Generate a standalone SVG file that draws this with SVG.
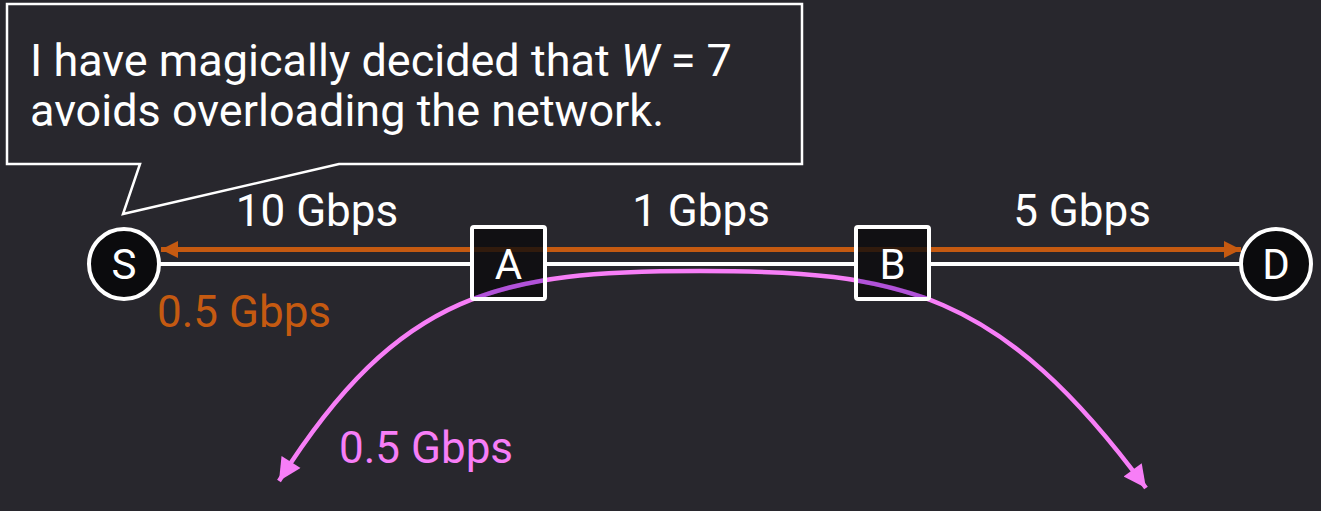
<svg xmlns="http://www.w3.org/2000/svg" width="1321" height="511" viewBox="0 0 1321 511">
<style>
text{font-family:Roboto,"Liberation Sans",sans-serif;font-size:44px;fill:#fff}
.co{font-size:45px}
.lbl{text-anchor:middle}
.nl{text-anchor:middle;font-size:42px}
.box{fill:#0b0b0d;fill-opacity:0.8;stroke:#fff;stroke-width:4}
.circ{fill:#0b0b0d;stroke:#fff;stroke-width:4}
.wl{stroke:#fff;stroke-width:4;fill:none}
.ol{stroke:#c55a11;stroke-width:5;fill:none}
.ml{stroke:#f77ef7;stroke-width:4.5;fill:none}
</style>
<defs>
<marker id="ao" viewBox="0 0 10 10" refX="10" refY="5" markerWidth="4" markerHeight="3.4" markerUnits="strokeWidth" orient="auto-start-reverse"><path d="M0,0 L10,5 L0,10 Z" fill="#c55a11"/></marker>
<marker id="am" viewBox="0 0 10 10" refX="10" refY="5" markerWidth="5.5" markerHeight="5" markerUnits="strokeWidth" orient="auto-start-reverse"><path d="M0,0 L10,5 L0,10 Z" fill="#f77ef7"/></marker>
<clipPath id="boxclip"><rect x="474" y="229" width="69" height="68"/><rect x="858" y="229" width="69" height="68"/></clipPath>
</defs>
<rect width="1321" height="511" fill="#28272d"/>
<g id="callout">
<path d="M7,4 H802 V164 H339 L123,214 L140,164 H7 Z" fill="#28272d" stroke="#fff" stroke-width="2.5" stroke-linejoin="miter"/>
<text class="co" x="30" y="76">I have magically decided that <tspan font-style="italic">W</tspan> = 7</text>
<text class="co" x="30" y="126">avoids overloading the network.</text>
</g>
<g id="connectors">
<line class="wl" x1="160" y1="264" x2="472" y2="264"/>
<line class="wl" x1="545" y1="264" x2="856" y2="264"/>
<line class="wl" x1="929" y1="264" x2="1240" y2="264"/>
<line class="ol" x1="161" y1="249.5" x2="1241" y2="249.5" marker-start="url(#ao)" marker-end="url(#ao)"/>
<path id="mc" class="ml" d="M279,481 C400,290 500,271 700,271 C900,271 1000,290 1146,488" marker-start="url(#am)" marker-end="url(#am)"/>
</g>
<g id="node-S"><circle class="circ" cx="124" cy="264" r="35"/><text class="nl" x="124" y="279">S</text></g>
<g id="node-D"><circle class="circ" cx="1276" cy="264" r="35"/><text class="nl" x="1276" y="279">D</text></g>
<g id="node-A"><rect class="box" x="472" y="227" width="73" height="72" rx="2"/><text class="nl" x="508.5" y="279">A</text></g>
<g id="node-B"><rect class="box" x="856" y="227" width="73" height="72" rx="2"/><text class="nl" x="892.5" y="279">B</text></g>
<path d="M279,481 C400,290 500,271 700,271 C900,271 1000,290 1146,488" stroke="#b152d9" stroke-width="4.5" fill="none" clip-path="url(#boxclip)"/>
<g id="labels">
<text class="lbl" x="317" y="226">10 Gbps</text>
<text class="lbl" x="701" y="226">1 Gbps</text>
<text class="lbl" x="1082" y="226">5 Gbps</text>
<text x="157" y="327" style="fill:#c55a11">0.5 Gbps</text>
<text x="339" y="463" style="fill:#f77ef7">0.5 Gbps</text>
</g>
</svg>
